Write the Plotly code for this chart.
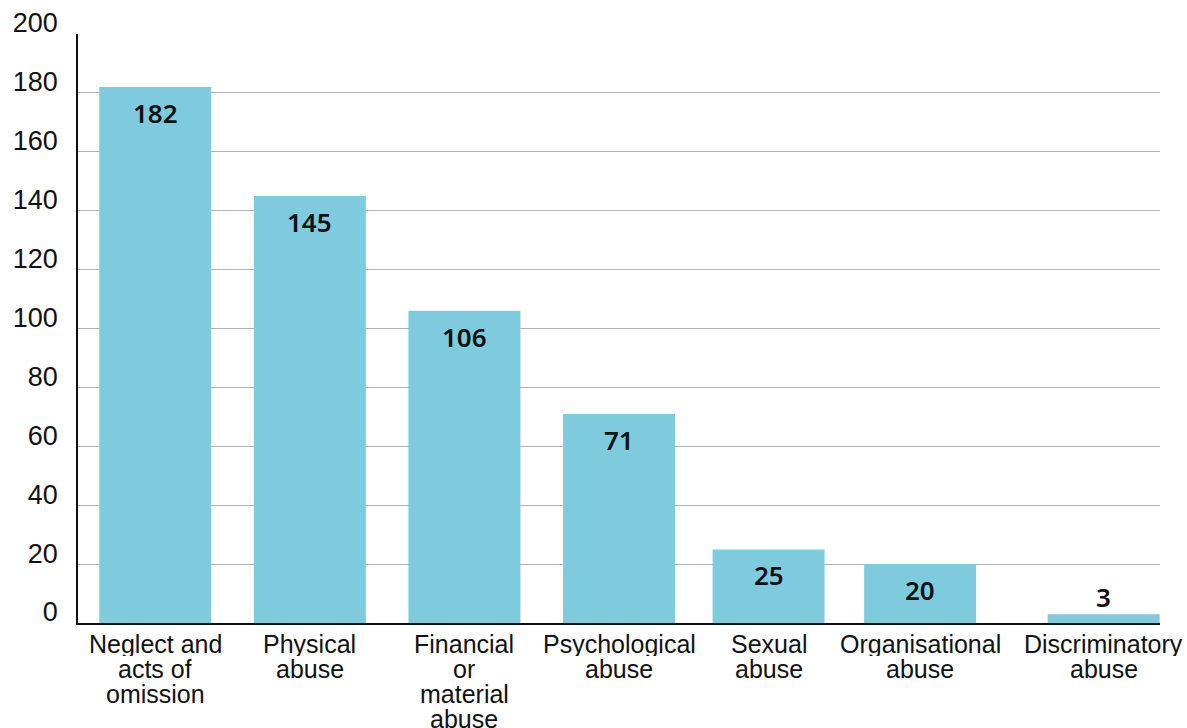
import plotly.graph_objects as go

categories = [
    "Neglect and<br>acts of<br>omission",
    "Physical<br>abuse",
    "Financial<br>or<br>material<br>abuse",
    "Psychological<br>abuse",
    "Sexual<br>abuse",
    "Organisational<br>abuse",
    "Discriminatory<br>abuse",
]
values = [182, 145, 106, 71, 25, 20, 3]
y_ticks = [0, 20, 40, 60, 80, 100, 120, 140, 160, 180, 200]

BAR_COLOR = "#7ecbdd"
AXIS_FONT = "Liberation Sans, Arial, sans-serif"
LABEL_FONT = "Noto Sans, sans-serif"

# layout geometry (style only)
PLOT_L, PLOT_R = 78, 1160
BAND_PX = (PLOT_R - PLOT_L) / len(categories)
BAR_W = 0.7245  # in category units
# small horizontal nudges of each column (px), mirroring the original layout
nudge_px = [0, 0, 0, 0, -5, -8, 21]
offsets = [-BAR_W / 2 + n / BAND_PX for n in nudge_px]

fig = go.Figure()
fig.add_trace(go.Bar(
    x=categories, y=values,
    width=BAR_W, offset=offsets,
    marker=dict(color=BAR_COLOR, line=dict(width=0)),
    hoverinfo="skip",
))

annotations = []
# value labels
for cat, v, n in zip(categories, values, nudge_px):
    inside = v >= 10
    annotations.append(dict(
        x=cat, y=v, xref="x", yref="y",
        text=str(v), showarrow=False,
        xanchor="center", yanchor="top" if inside else "bottom",
        yshift=-6 if inside else -3, xshift=n,
        font=dict(family=LABEL_FONT, size=26, color="#111111", weight=600),
    ))
# category labels with tight line spacing
LINE_H = 25
for cat, n in zip(categories, nudge_px):
    for i, line in enumerate(cat.split("<br>")):
        annotations.append(dict(
            x=cat, y=0, xref="x", yref="y",
            text=line, showarrow=False,
            xanchor="center", yanchor="top", valign="middle",
            height=LINE_H - 1, borderpad=0,
            yshift=-8 - LINE_H * i, xshift=n,
            font=dict(family=AXIS_FONT, size=25, color="#111111"),
        ))

fig.update_layout(
    width=1187, height=728,
    margin=dict(l=PLOT_L, r=1187 - PLOT_R, t=34, b=105, autoexpand=False),
    paper_bgcolor="white", plot_bgcolor="white",
    showlegend=False,
    annotations=annotations,
    xaxis=dict(
        type="category", showticklabels=False, showgrid=False,
        showline=True, linecolor="#111111", linewidth=2, automargin=False,
        layer="below traces", ticks="", range=[-0.5, len(categories) - 0.5],
    ),
    yaxis=dict(
        range=[0, 200], tickvals=y_ticks, showgrid=True,
        gridcolor="#b3b3b3", gridwidth=1, zeroline=False,
        showline=True, linecolor="#111111", linewidth=1.5,
        layer="below traces", automargin=False,
        tickfont=dict(family=AXIS_FONT, size=27, color="#111111"),
        ticks="", ticklabelstandoff=13, ticklabelshift=-11,
    ),
)

fig.write_html("out.html")
